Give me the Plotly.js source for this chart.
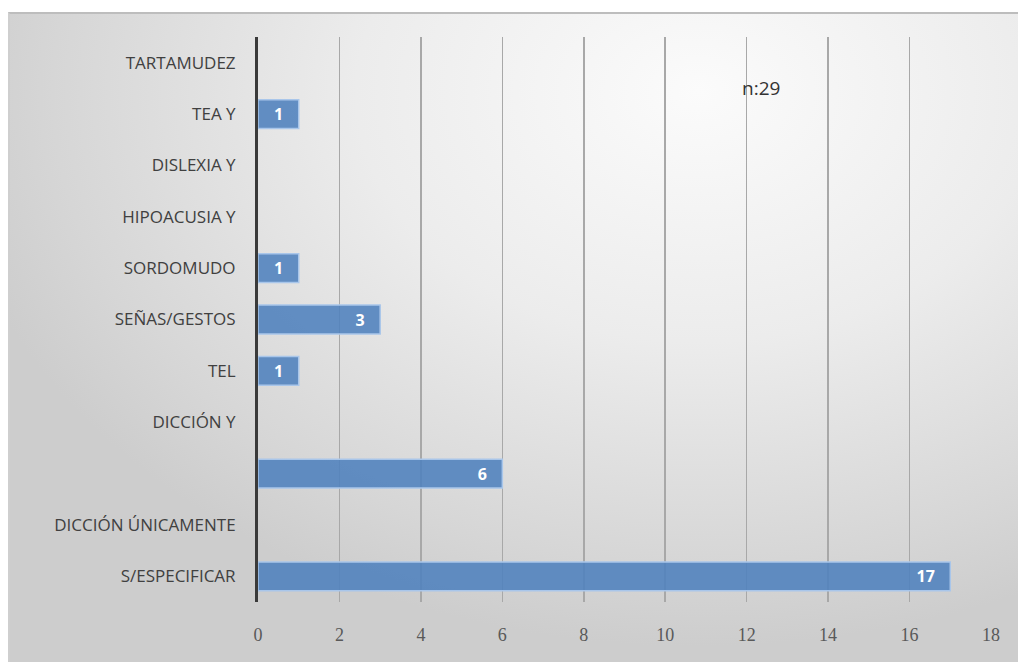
<!DOCTYPE html>
<html>
<head>
<meta charset="utf-8">
<script src="https://cdn.plot.ly/plotly-3.0.1.min.js"></script>
<style>
  html, body { margin:0; padding:0; background:#ffffff; }
  #wrap { position:relative; width:1018px; height:662px; overflow:hidden; }
  #bg { position:absolute; left:8px; top:12px; width:1012px; height:652px;
        border-top:2px solid #bdbdbd; border-left:2px solid #cfcfcf;
        background: radial-gradient(ellipse 75% 85% at 68% 12%, #fbfbfb 0%, #ececec 45%, #d6d6d6 85%, #cdcdcd 100%); }
  #chart { position:absolute; left:0; top:0; width:1018px; height:662px; }
</style>
</head>
<body>
<div id="wrap">
  <div id="bg"></div>
  <div id="chart"></div>
</div>
<script>
// Categories listed bottom to top
const categories = ["S/ESPECIFICAR", "DICCIÓN ÚNICAMENTE", " ", "DICCIÓN Y", "TEL", "SEÑAS/GESTOS", "SORDOMUDO", "HIPOACUSIA Y", "DISLEXIA Y", "TEA Y", "TARTAMUDEZ"];
const values = [17, 0, 6, 0, 1, 3, 1, 0, 0, 1, 0];
const xTicks = [0, 2, 4, 6, 8, 10, 12, 14, 16, 18];
const noteText = "n:29";

// value labels (blank for zero), padded from the bar end
const labels = values.map(v => v ? String(v) + "\u00a0\u00a0\u00a0" : "");

const trace = {
  type: "bar",
  orientation: "h",
  y: categories,
  x: values,
  text: labels,
  textposition: "inside",
  insidetextanchor: "end",
  textangle: 0,
  textfont: { family: "Open Sans, sans-serif", size: 16, color: "#ffffff", weight: "bold" },
  marker: {
    color: "rgba(79,129,189,0.88)",
    line: { color: values.map(v => v ? "#a9c6ea" : "rgba(0,0,0,0)"), width: 1.5 }
  },
  hoverinfo: "none",
  cliponaxis: false
};

const layout = {
  width: 1018, height: 662,
  margin: { l: 258, r: 27, t: 37, b: 60 },
  paper_bgcolor: "rgba(0,0,0,0)",
  plot_bgcolor: "rgba(0,0,0,0)",
  bargap: 0.44,
  showlegend: false,
  font: { family: "Open Sans, sans-serif", color: "#404040" },
  xaxis: {
    range: [0, 18],
    tickvals: xTicks,
    ticktext: xTicks.map(String),
    showgrid: true,
    gridcolor: "#a8a8a8",
    gridwidth: 1.5,
    zeroline: false,
    showline: false,
    ticks: "",
    ticklabelstandoff: 20,
    tickfont: { family: "Liberation Serif, DejaVu Serif, serif", size: 18, color: "#595959" },
    fixedrange: true
  },
  yaxis: {
    type: "category",
    categoryorder: "array",
    categoryarray: categories,
    range: [-0.5, categories.length - 0.5],
    showgrid: false,
    zeroline: false,
    showline: true,
    linecolor: "#3a3a3a",
    linewidth: 3,
    ticks: "",
    ticklabelstandoff: 16,
    tickfont: { size: 17, color: "#404040" },
    fixedrange: true
  },
  annotations: [{
    xref: "x", yref: "paper",
    x: 12.35, y: 0.91,
    yanchor: "middle",
    text: noteText,
    showarrow: false,
    font: { size: 19, color: "#333333" }
  }]
};

Plotly.newPlot("chart", [trace], layout, { displayModeBar: false, staticPlot: true });
</script>
</body>
</html>
